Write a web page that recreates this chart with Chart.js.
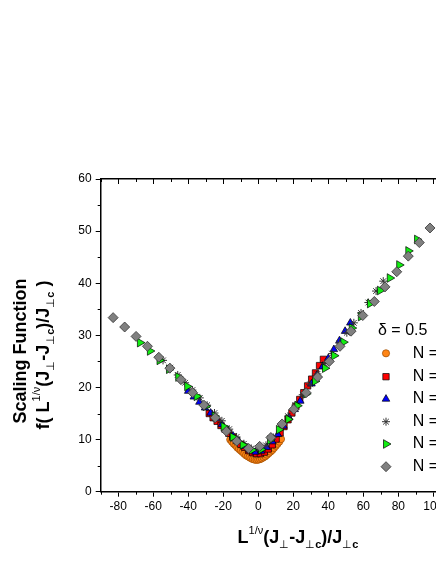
<!DOCTYPE html>
<html>
<head>
<meta charset="utf-8">
<script src="https://cdn.jsdelivr.net/npm/chart.js@4.4.1/dist/chart.umd.min.js"></script>
<style>
  html, body { margin: 0; padding: 0; background: #fff; overflow: hidden; }
</style>
</head>
<body>
<canvas id="scaling" width="520" height="564"></canvas>
<script>
// values, one pair of arrays per system size
const xN1 = [-16,-15,-14,-13,-12,-11,-10,-9,-8,-7,-6,-5,-4,-3,-2,-1,0,1,2,3,4,5,6,7,8,9,10,11,12,13];
const yN1 = [10.0,9.6,9.2,8.9,8.5,8.2,7.9,7.6,7.3,7.0,6.8,6.6,6.4,6.25,6.15,6.1,6.15,6.25,6.4,6.6,6.8,7.1,7.4,7.7,8.0,8.4,8.8,9.2,9.6,10.1];

const xN2 = [-28.0,-25.8,-23.5,-21.3,-19.0,-16.8,-14.5,-12.3,-10.0,-7.8,-5.5,-3.3,-1.0,1.2,3.5,5.7,8.0,10.2,12.5,14.7,17.0,19.2,21.5,23.7,26.0,28.2,30.5,32.7,35.0,37.2];
const yN2 = [15.0,14.2,13.5,12.7,12.0,11.2,10.5,9.8,9.1,8.5,7.9,7.5,7.3,7.3,7.6,8.2,9.0,10.1,11.3,12.5,13.8,15.1,16.4,17.7,19.0,20.3,21.6,22.8,24.2,25.4];

const xN3 = [-40.0,-36.8,-33.6,-30.4,-27.2,-24.0,-20.8,-17.6,-14.4,-11.2,-8.0,-4.8,-1.6,1.6,4.8,8.0,11.2,14.4,17.6,20.8,24.0,27.2,30.4,33.6,36.8,40.0,43.2,46.4,49.6,52.6];
const yN3 = [19.3,18.2,17.2,16.1,15.1,14.0,12.9,11.8,10.7,9.7,8.7,8.0,7.6,7.8,8.5,9.6,11.0,12.6,14.2,15.8,17.4,19.0,20.7,22.4,24.0,25.6,27.3,29.0,30.8,32.4];

const xN4 = [-54.4,-50.2,-46.0,-41.8,-37.6,-33.4,-29.2,-25.0,-20.8,-16.6,-12.4,-8.2,-4.0,0.2,4.4,8.6,12.8,17.0,21.2,25.4,29.6,33.8,38.0,42.2,46.4,50.6,54.6,58.7,62.9,67.3,71.4];
const yN4 = [25.2,23.8,22.4,20.9,19.5,18.0,16.6,15.1,13.6,12.0,10.5,9.2,8.3,8.1,8.9,10.4,12.4,14.5,16.6,18.6,20.6,22.6,24.6,26.5,28.5,30.5,32.4,34.3,36.3,38.5,40.4];

const xN5 = [-67.6,-61.9,-56.4,-51.0,-45.7,-40.6,-35.2,-30.0,-24.9,-19.8,-14.6,-8.9,-3.6,1.6,6.7,11.8,17.1,22.3,27.4,32.4,38.1,43.3,48.6,53.4,58.6,63.8,69.5,75.1,80.5,85.7,90.7];
const yN5 = [28.6,27.0,25.2,23.5,22.0,20.2,18.3,16.4,14.5,12.5,10.5,9.0,8.0,8.1,9.9,11.9,13.9,16.5,18.8,21.2,23.7,26.1,28.7,31.4,33.6,36.1,38.6,41.0,43.5,46.2,48.4];

const xN6 = [-82.9,-76.3,-69.8,-63.3,-56.8,-50.5,-44.2,-37.5,-31.0,-24.6,-18.2,-12.3,-5.5,0.8,7.2,13.6,20.3,27.3,33.9,40.6,46.7,53.0,59.7,66.3,72.4,79.1,85.7,92.0,98.1];
const yN6 = [33.4,31.6,29.8,27.9,25.8,23.7,21.5,19.0,16.6,14.2,11.6,9.7,8.3,8.7,10.4,13.0,15.8,19.0,22.0,25.0,27.9,30.8,33.8,36.5,39.3,42.2,45.2,47.8,50.6];

const seriesNames = ["N = 4", "N = 6", "N = 8", "N = 10", "N = 12", "N = 16"];
const legendHeading = "δ = 0.5";

const FONT = "'Liberation Sans', Arial, sans-serif";

function pts(xs, ys) {
  return xs.map((x, i) => ({x: x, y: ys[i]}));
}

const dataObj = {
  datasets: [
    { label: seriesNames[0], data: pts(xN1, yN1), pointStyle: "circle", pointRadius: 3.6,
      backgroundColor: "#ff8515", borderColor: "#9a4a00", borderWidth: 0.7, order: 5 },
    { label: seriesNames[1], data: pts(xN2, yN2), pointStyle: "rect", pointRadius: 4.5,
      backgroundColor: "#ff0000", borderColor: "#000", borderWidth: 0.7, order: 4 },
    { label: seriesNames[2], data: pts(xN3, yN3), pointStyle: "triangle", pointRadius: 4.4,
      backgroundColor: "#0000ff", borderColor: "#000", borderWidth: 0.7, order: 3 },
    { label: seriesNames[3], data: pts(xN4, yN4), pointStyle: "star", pointRadius: 4,
      backgroundColor: "#333", borderColor: "#333", borderWidth: 1, order: 2 },
    { label: seriesNames[4], data: pts(xN5, yN5), pointStyle: "triangle", pointRadius: 5, pointRotation: 90,
      backgroundColor: "#11ee11", borderColor: "#000", borderWidth: 0.7, order: 1 },
    { label: seriesNames[5], data: pts(xN6, yN6), pointStyle: "rectRot", pointRadius: 5,
      backgroundColor: "#808080", borderColor: "#333", borderWidth: 0.8, order: 0 },
  ],
};

// draws a run of text pieces (for super/subscripts), centred on x
function drawRich(ctx, parts, x, y) {
  let total = 0;
  parts.forEach(p => { ctx.font = p.f; total += ctx.measureText(p.t).width; });
  let cx = x - total / 2;
  parts.forEach(p => {
    ctx.font = p.f;
    ctx.fillText(p.t, cx, y + (p.dy || 0));
    cx += ctx.measureText(p.t).width;
  });
}

const B = "bold 18px " + FONT, SUP = "11px " + FONT, SUB = "11px " + FONT, SUBB = "bold 11px " + FONT;
const xTitleParts = [
  {t: "L", f: B}, {t: "1/ν", f: SUP, dy: -9}, {t: "(J", f: B}, {t: "⊥", f: SUB, dy: 5},
  {t: "-J", f: B}, {t: "⊥", f: SUB, dy: 5}, {t: "c", f: SUBB, dy: 5}, {t: ")/J", f: B},
  {t: "⊥", f: SUB, dy: 5}, {t: "c", f: SUBB, dy: 5},
];
const yTitleParts = [{t: "f( L", f: B}].concat(xTitleParts.slice(1), [{t: " )", f: B}]);

const isMajorX = v => v % 20 === 0 && v >= -80 && v <= 120;

const decorations = {
  id: "decorations",
  afterDraw(chart) {
    const {ctx, chartArea: a, scales: {x, y}} = chart;
    ctx.save();
    ctx.strokeStyle = "#000";
    ctx.lineWidth = 1;
    ctx.beginPath();
    // minor ticks bottom, all ticks top (inward)
    for (let v = -90; v <= 130; v += 10) {
      const px = Math.round(x.getPixelForValue(v)) + 0.5;
      const major = v % 20 === 0;
      if (!major) { ctx.moveTo(px, a.bottom); ctx.lineTo(px, a.bottom + 3); }
      ctx.moveTo(px, a.top); ctx.lineTo(px, a.top + (major ? 5 : 3));
    }
    for (let v = 5; v < 60; v += 10) {
      const py = Math.round(y.getPixelForValue(v)) + 0.5;
      ctx.moveTo(a.left - 3, py); ctx.lineTo(a.left, py);
    }
    ctx.stroke();

    ctx.fillStyle = "#000";
    ctx.textBaseline = "alphabetic";
    ctx.textAlign = "left";
    drawRich(ctx, xTitleParts, 298, 543);

    ctx.save();
    ctx.translate(26, 351);
    ctx.rotate(-Math.PI / 2);
    ctx.font = B;
    ctx.textAlign = "center";
    ctx.fillText("Scaling Function", 0, 0);
    ctx.restore();
    ctx.save();
    ctx.translate(49, 355);
    ctx.rotate(-Math.PI / 2);
    ctx.textAlign = "left";
    drawRich(ctx, yTitleParts, 0, 0);
    ctx.restore();

    // legend inside the plot
    ctx.textBaseline = "middle";
    ctx.textAlign = "left";
    ctx.font = "16px " + FONT;
    ctx.fillText(legendHeading, 378, 331);
    const rows = [353.3, 376.7, 399, 421.7, 444, 466.7];
    chart.data.datasets.forEach((ds, i) => {
      ctx.fillStyle = ds.backgroundColor;
      ctx.strokeStyle = ds.borderColor;
      ctx.lineWidth = ds.borderWidth;
      Chart.helpers.drawPoint(ctx, {
        pointStyle: ds.pointStyle, rotation: ds.pointRotation || 0,
        radius: ds.pointRadius, borderWidth: ds.borderWidth,
      }, 386, rows[i]);
      ctx.fillStyle = "#000";
      ctx.font = "16px " + FONT;
      ctx.fillText(ds.label, 412.7, rows[i]);
    });
    ctx.restore();
  },
};

new Chart("scaling", {
  type: "scatter",
  data: dataObj,
  plugins: [decorations],
  options: {
    responsive: false,
    animation: false,
    devicePixelRatio: 1,
    layout: { padding: { left: 0, top: 179, right: 25.4, bottom: 0 } },
    plugins: { legend: { display: false }, tooltip: { enabled: false } },
    scales: {
      x: {
        type: "linear", position: "bottom", min: -90, max: 135, bounds: "data",
        afterFit: s => { s.height = 72.3; },
        ticks: { stepSize: 10, autoSkip: false, maxRotation: 0,
                 callback: v => (isMajorX(v) ? String(v) : ""),
                 color: "#000", padding: 3, font: { family: FONT, size: 12 } },
        grid: { drawOnChartArea: false, tickLength: 5, tickWidth: 1,
                tickColor: c => (c.tick && isMajorX(c.tick.value) ? "#000" : "rgba(0,0,0,0)") },
        border: { color: "#000", width: 1.5 },
      },
      x2: {
        type: "linear", position: "top", min: -90, max: 135,
        afterFit: s => { s.height = 0; },
        ticks: { display: false },
        grid: { display: false },
        border: { color: "#000", width: 1.5 },
      },
      y: {
        type: "linear", position: "left", min: 0, max: 60,
        afterFit: s => { s.width = 100.7; },
        ticks: { stepSize: 10, color: "#000", padding: 4, font: { family: FONT, size: 12 } },
        grid: { drawOnChartArea: false, tickLength: 5, tickColor: "#000", tickWidth: 1 },
        border: { color: "#000", width: 1.5 },
      },
    },
  },
});
</script>
</body>
</html>
